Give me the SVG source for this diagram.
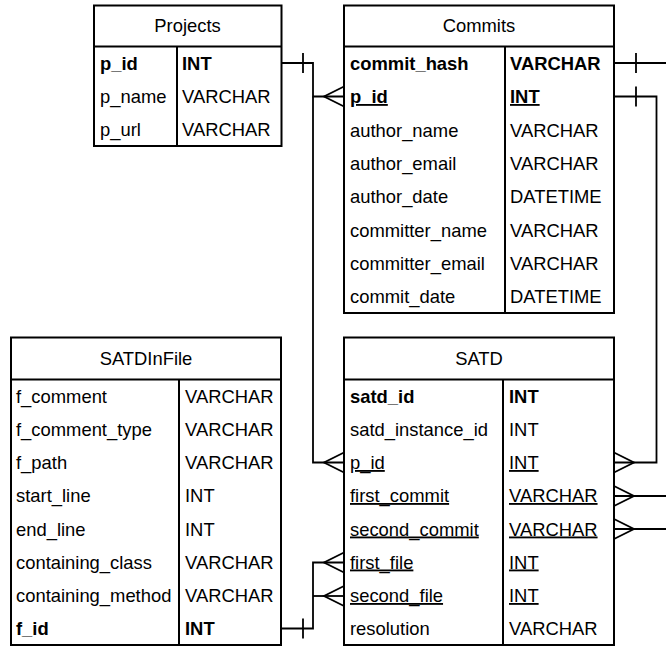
<svg xmlns="http://www.w3.org/2000/svg" width="666" height="646" viewBox="0 0 666 646">
<style>
text{font-family:"Liberation Sans",Arial,sans-serif;font-size:18.4px;fill:#000}
.h{text-anchor:middle}
.b{font-weight:bold}
.u{text-decoration:underline}
.box{fill:#fff;stroke:#000;stroke-width:2}
.ln{stroke:#000;stroke-width:2;fill:none}
.c{stroke:#000;stroke-width:1.8;fill:none}
</style>
<rect width="666" height="646" fill="#fff"/>
<g id="connectors">
<path class="c" d="M281,63 H313 V96.5 H344"/>
<path class="c" d="M313,96.5 V462.5 H344"/>
<path class="c" d="M303,53 V73"/>
<path class="c" d="M344,86.5 L324,96.5 L344,106.5"/>
<path class="c" d="M344,452.5 L324,462.5 L344,472.5"/>
<path class="c" d="M614,63 H666"/>
<path class="c" d="M636,53 V73"/>
<path class="c" d="M614,96.5 H656.5 V462.5 H614"/>
<path class="c" d="M636,86.5 V106.5"/>
<path class="c" d="M614,452.5 L634,462.5 L614,472.5"/>
<path class="c" d="M614,496 H666"/>
<path class="c" d="M614,486 L634,496 L614,506"/>
<path class="c" d="M614,529 H666"/>
<path class="c" d="M614,519 L634,529 L614,539"/>
<path class="c" d="M281,628.5 H313 V562.5 H344"/>
<path class="c" d="M313,596 H344"/>
<path class="c" d="M303,618.5 V638.5"/>
<path class="c" d="M344,552.5 L324,562.5 L344,572.5"/>
<path class="c" d="M344,586 L324,596 L344,606"/>
</g>
<g id="Projects">
<rect class="box" x="94" y="5.5" width="187.5" height="140.5"/>
<path class="ln" d="M94,46.5 H281.5 M177,46.5 V146"/>
<text class="h" x="187.5" y="32">Projects</text>
<text class="b" x="100" y="69.5">p_id</text><text class="b" x="182" y="69.5">INT</text>
<text x="100" y="102.5">p_name</text><text x="182" y="102.5">VARCHAR</text>
<text x="100" y="136">p_url</text><text x="182" y="136">VARCHAR</text>
</g>
<g id="Commits">
<rect class="box" x="344" y="5.5" width="270" height="307.5"/>
<path class="ln" d="M344,46.5 H614 M505,46.5 V313"/>
<text class="h" x="479" y="32">Commits</text>
<text class="b" x="350" y="69.5">commit_hash</text><text class="b" x="510" y="69.5">VARCHAR</text>
<text class="b u" x="350" y="103">p_id</text><text class="b u" x="510" y="103">INT</text>
<text x="350" y="136.5">author_name</text><text x="510" y="136.5">VARCHAR</text>
<text x="350" y="169.5">author_email</text><text x="510" y="169.5">VARCHAR</text>
<text x="350" y="203">author_date</text><text x="510" y="203">DATETIME</text>
<text x="350" y="236.5">committer_name</text><text x="510" y="236.5">VARCHAR</text>
<text x="350" y="269.5">committer_email</text><text x="510" y="269.5">VARCHAR</text>
<text x="350" y="303">commit_date</text><text x="510" y="303">DATETIME</text>
</g>
<g id="SATDInFile">
<rect class="box" x="11" y="337.5" width="270" height="307.5"/>
<path class="ln" d="M11,379.5 H281 M179,379.5 V645"/>
<text class="h" x="146" y="364.5">SATDInFile</text>
<text x="16" y="402.5">f_comment</text><text x="185" y="402.5">VARCHAR</text>
<text x="16" y="435.5">f_comment_type</text><text x="185" y="435.5">VARCHAR</text>
<text x="16" y="469">f_path</text><text x="185" y="469">VARCHAR</text>
<text x="16" y="502">start_line</text><text x="185" y="502">INT</text>
<text x="16" y="535.5">end_line</text><text x="185" y="535.5">INT</text>
<text x="16" y="568.5">containing_class</text><text x="185" y="568.5">VARCHAR</text>
<text x="16" y="602">containing_method</text><text x="185" y="602">VARCHAR</text>
<text class="b" x="16" y="635">f_id</text><text class="b" x="185" y="635">INT</text>
</g>
<g id="SATD">
<rect class="box" x="344" y="337.5" width="270" height="307.5"/>
<path class="ln" d="M344,379.5 H614 M503,379.5 V645"/>
<text class="h" x="479" y="364.5">SATD</text>
<text class="b" x="350" y="402.5">satd_id</text><text class="b" x="509" y="402.5">INT</text>
<text x="350" y="435.5">satd_instance_id</text><text x="509" y="435.5">INT</text>
<text class="u" x="350" y="469">p_id</text><text class="u" x="509" y="469">INT</text>
<text class="u" x="350" y="502">first_commit</text><text class="u" x="509" y="502">VARCHAR</text>
<text class="u" x="350" y="535.5">second_commit</text><text class="u" x="509" y="535.5">VARCHAR</text>
<text class="u" x="350" y="568.5">first_file</text><text class="u" x="509" y="568.5">INT</text>
<text class="u" x="350" y="602">second_file</text><text class="u" x="509" y="602">INT</text>
<text x="350" y="635">resolution</text><text x="509" y="635">VARCHAR</text>
</g>
</svg>
